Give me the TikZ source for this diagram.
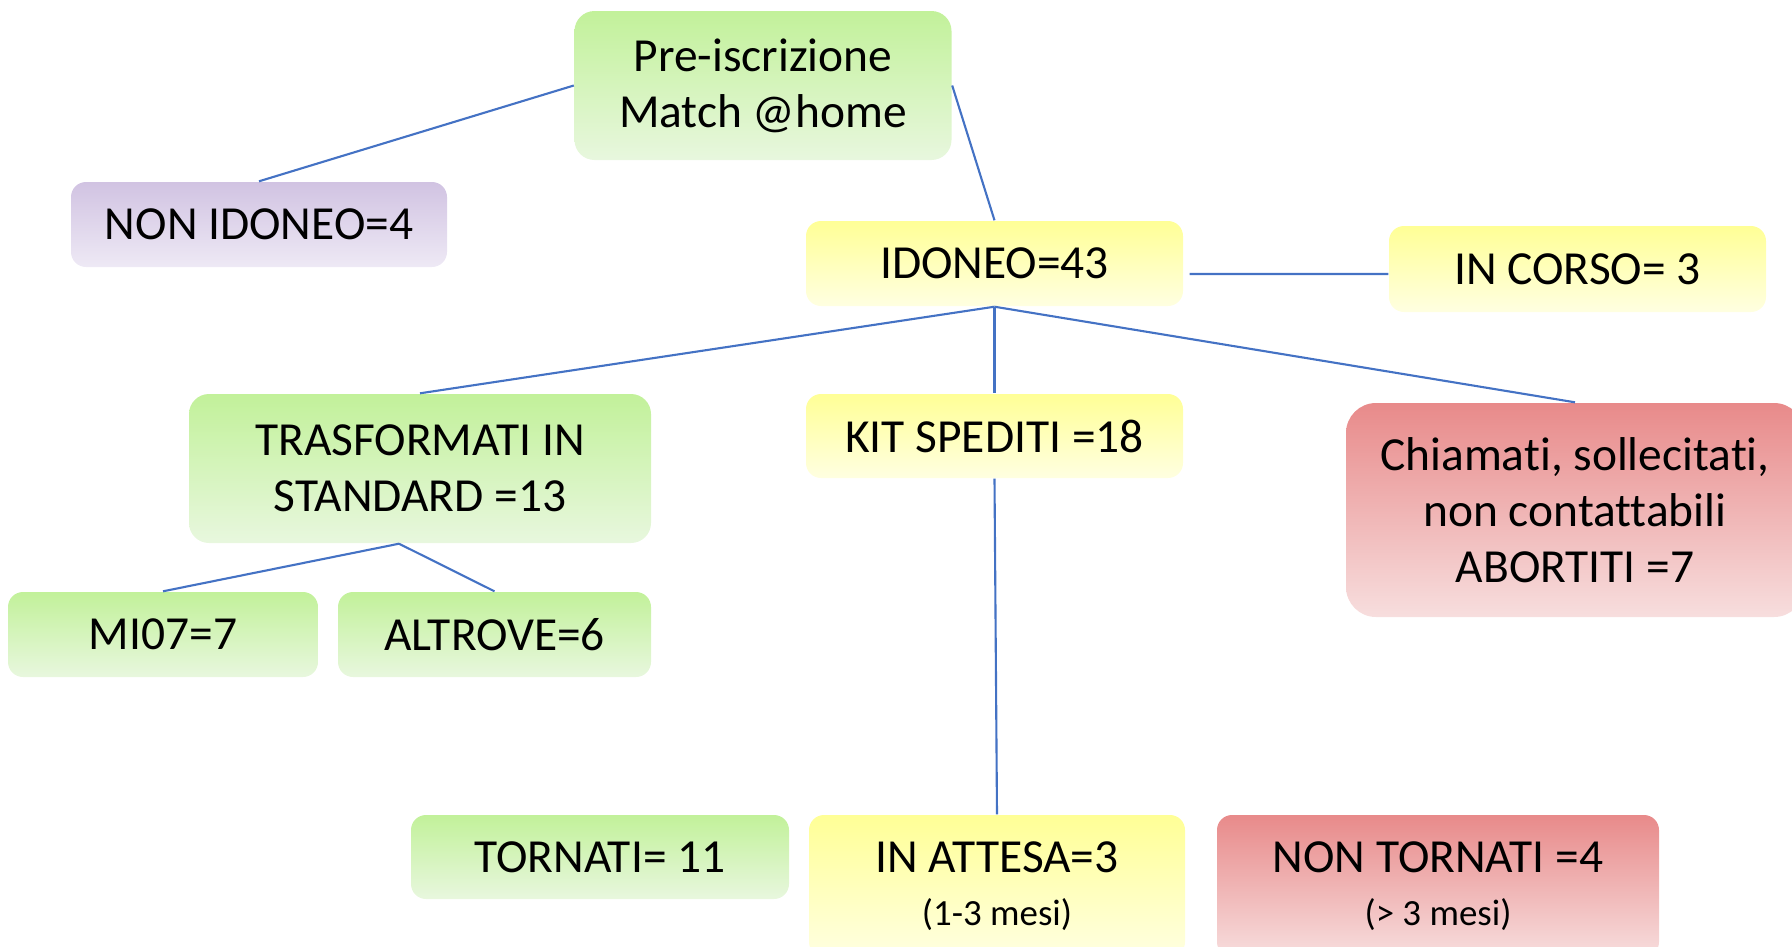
\documentclass[tikz,border=0pt]{standalone}
\usepackage{fontspec}
\setmainfont{Carlito}[Ligatures=NoCommon]
\definecolor{link}{RGB}{68,114,196}
\definecolor{greentop}{RGB}{194,241,154}
\definecolor{greenbot}{RGB}{232,247,222}
\definecolor{yellowtop}{RGB}{255,255,150}
\definecolor{yellowbot}{RGB}{255,255,225}
\definecolor{violettop}{RGB}{209,195,226}
\definecolor{violetbot}{RGB}{238,233,245}
\definecolor{redtop}{RGB}{232,138,138}
\definecolor{redbot}{RGB}{247,222,222}
\tikzset{
  box/.style={rounded corners=0.15cm,align=center,inner sep=0pt,
    font=\fontsize{13.5}{16}\selectfont},
  greenbox/.style={box,top color=greentop,bottom color=greenbot},
  yellowbox/.style={box,top color=yellowtop,bottom color=yellowbot},
  violetbox/.style={box,top color=violettop,bottom color=violetbot},
  redbox/.style={box,top color=redtop,bottom color=redbot},
  conn/.style={draw=link,line width=0.6pt}
}
\newcommand{\mesi}[1]{\\[-1pt]{\fontsize{10.5}{12}\selectfont #1}}
\begin{document}
\begin{tikzpicture}
	\useasboundingbox (0,0) rectangle (17.92,-9.46);
	% top
	\node[greenbox,rounded corners=0.2cm,minimum width=3.77cm,minimum height=1.49cm] (pre) at (7.63,-0.855) {\raisebox{-2pt}{Pre-iscrizione}\\\raisebox{-2pt}{Match @home}};
	\node[violetbox,minimum width=3.76cm,minimum height=0.85cm] (nonid) at (2.59,-2.245) {NON IDONEO=4};
	\node[yellowbox,minimum width=3.77cm,minimum height=0.85cm] (idoneo) at (9.945,-2.635) {IDONEO=43};
	\node[yellowbox,minimum width=3.77cm,minimum height=0.86cm] (corso) at (15.775,-2.69) {IN CORSO= 3};
	% middle
	\node[greenbox,rounded corners=0.2cm,minimum width=4.62cm,minimum height=1.49cm] (trasf) at (4.20,-4.685) {TRASFORMATI IN\\STANDARD =13};
	\node[yellowbox,minimum width=3.77cm,minimum height=0.84cm] (kit) at (9.945,-4.36) {KIT SPEDITI =18};
	\node[redbox,rounded corners=0.3cm,minimum width=4.58cm,minimum height=2.14cm] (chiam) at (15.75,-5.10) {Chiamati, sollecitati,\\non contattabili\\ABORTITI =7};
	\node[greenbox,minimum width=3.10cm,minimum height=0.85cm] (mi07) at (1.63,-6.345) {MI07=7};
	\node[greenbox,minimum width=3.13cm,minimum height=0.85cm] (altrove) at (4.945,-6.345) {ALTROVE=6};
	% bottom
	\node[greenbox,minimum width=3.78cm,minimum height=0.84cm] (tornati) at (6.00,-8.57) {TORNATI= 11};
	\node[yellowbox,minimum width=3.76cm,minimum height=1.42cm] (attesa) at (9.97,-8.86) {IN ATTESA=3\mesi{(1-3 mesi)}};
	\node[redbox,minimum width=4.42cm,minimum height=1.42cm] (nontorn) at (14.38,-8.86) {NON TORNATI =4\mesi{(> 3 mesi)}};
	% connectors
	\draw[conn] (pre.west) -- (nonid.north);
	\draw[conn] (pre.east) -- (idoneo.north);
	\draw[conn] ([shift={(0.06,-0.105)}]idoneo.east) -- ([yshift=-0.05cm]corso.west);
	\draw[conn] (idoneo.south) -- (trasf.north);
	\draw[conn] (idoneo.south) -- (kit.north);
	\draw[conn] (idoneo.south) -- (chiam.north);
	\draw[conn] ([xshift=-0.21cm]trasf.south) -- (mi07.north);
	\draw[conn] ([xshift=-0.21cm]trasf.south) -- (altrove.north);
	\draw[conn] (kit.south) -- (attesa.north);
\end{tikzpicture}
\end{document}
